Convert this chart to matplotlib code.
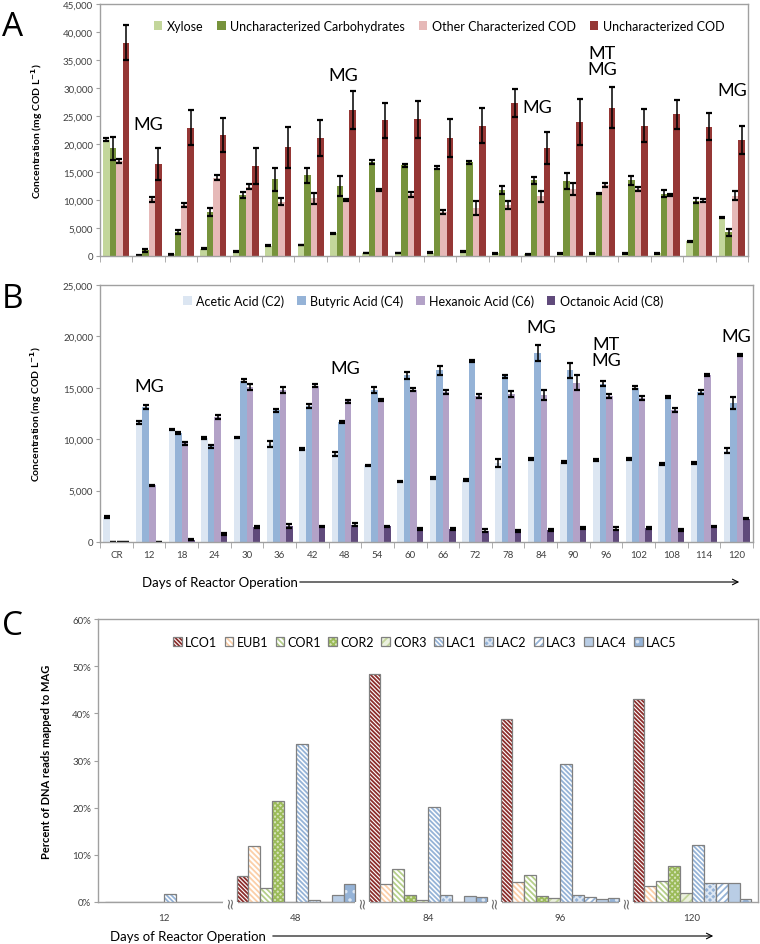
#!/usr/bin/env python3
"""
Three-panel reactor figure: COD fractions (A), carboxylic acids (B)
and MAG read abundance (C) over days of reactor operation.
"""

import numpy as np
import matplotlib
matplotlib.use("Agg")
import matplotlib.pyplot as plt
from matplotlib.patches import Patch, FancyArrowPatch
from matplotlib.ticker import FuncFormatter

plt.rcParams['font.family'] = ['Lato', 'DejaVu Sans']
plt.rcParams['hatch.linewidth'] = 1.3

# ---- Panel A / B data (mg COD/L) ----
days = ['CR', '12', '18', '24', '30', '36', '42', '48', '54', '60',
        '66', '72', '78', '84', '90', '96', '102', '108', '114', '120']

xylose = [20800, 60, 300, 1300, 830, 1800, 1960, 4050, 540, 540,
          600, 800, 500, 300, 500, 500, 500, 500, 2600, 6800]
xylose_err = [200, 50, 60, 60, 60, 80, 80, 80, 60, 60,
              60, 60, 60, 60, 60, 60, 60, 60, 60, 100]
carbs = [19200, 1000, 4300, 7800, 10900, 13700, 14400, 12500, 16800, 16200,
         15800, 16700, 11800, 13500, 13400, 11200, 13500, 11100, 9900, 4200]
carbs_err = [2000, 200, 300, 700, 500, 2100, 1400, 1700, 350, 300,
             300, 300, 700, 600, 1500, 100, 800, 600, 500, 700]
other_cod = [17000, 10100, 9100, 14000, 12400, 9700, 10300, 10050, 11800, 11000,
             7900, 8600, 9100, 10650, 12000, 12700, 12000, 10900, 9900, 10800]
other_cod_err = [400, 500, 400, 400, 400, 600, 1000, 150, 200, 400,
                 400, 1200, 700, 1000, 1100, 300, 400, 150, 300, 800]
unchar_cod = [38100, 16400, 22900, 21600, 16000, 19400, 21100, 26100, 24200, 24400,
              21100, 23300, 27400, 19300, 23900, 26500, 23300, 25300, 23100, 20800]
unchar_cod_err = [3100, 2800, 3100, 3000, 3200, 3600, 3200, 3400, 3200, 3300,
                  3400, 3200, 2500, 2900, 4100, 3600, 3000, 2600, 2400, 2500]

acetic = [2400, 11660, 10950, 10100, 10170, 9500, 9070, 8600, 7450, 5900,
          6200, 6000, 7700, 8100, 7800, 7970, 8100, 7600, 7700, 8900]
acetic_err = [100, 150, 80, 80, 80, 300, 80, 200, 80, 80,
              80, 80, 400, 80, 80, 80, 100, 80, 80, 250]
butyric = [0, 13100, 10600, 9300, 15700, 12800, 13250, 11660, 14800, 16200,
           16700, 17600, 16100, 18400, 16700, 15400, 15000, 14100, 14600, 13500]
butyric_err = [0, 200, 80, 150, 150, 150, 200, 80, 300, 300,
               450, 80, 150, 800, 700, 250, 150, 80, 200, 600]
hexanoic = [0, 5500, 9600, 12150, 15100, 14800, 15200, 13700, 13800, 14800,
            14600, 14200, 14400, 14300, 15500, 14200, 14000, 12800, 16200, 18200]
hexanoic_err = [0, 80, 150, 200, 300, 300, 150, 150, 80, 150,
                200, 200, 250, 450, 700, 150, 200, 200, 100, 80]
octanoic = [0, 0, 230, 800, 1460, 1590, 1520, 1690, 1520, 1270,
            1270, 1100, 1100, 1170, 1360, 1300, 1360, 1170, 1520, 2270]
octanoic_err = [0, 0, 80, 80, 80, 200, 80, 150, 80, 80,
                80, 150, 80, 80, 80, 150, 80, 80, 80, 80]

# sampling annotations: (day, label, height in A, height in B)
mg_days = ['12', '48', '84', '96', '120']
mg_labels = ['MG', 'MG', 'MG', 'MT\nMG', 'MG']
mg_y_a = [23600, 32300, 26600, 34800, 29600]
mg_y_b = [15200, 16900, 20900, 18500, 20000]

# ---- Panel C data (% of DNA reads) ----
mag_names = ['LCO1', 'EUB1', 'COR1', 'COR2', 'COR3',
             'LAC1', 'LAC2', 'LAC3', 'LAC4', 'LAC5']
lco1 = [0, 5.6, 48.3, 38.8, 43.0]
eub1 = [0, 11.8, 3.8, 4.2, 3.3]
cor1 = [0, 2.9, 7.0, 5.7, 4.5]
cor2 = [0, 21.5, 1.4, 1.3, 7.7]
cor3 = [0, 0.0, 0.4, 0.9, 2.0]
lac1 = [1.7, 33.4, 20.1, 29.2, 12.1]
lac2 = [0, 0.4, 1.4, 1.5, 4.1]
lac3 = [0, 0.0, 0.0, 1.0, 4.0]
lac4 = [0, 1.4, 1.2, 0.6, 4.0]
lac5 = [0, 3.8, 1.1, 0.8, 0.6]

GRAY = '#a0a0a0'
TXT = '#404040'
EDGE = '#808080'


def style_axes(ax):
    for s in ax.spines.values():
        s.set_color(GRAY)
        s.set_linewidth(1.0)
    ax.tick_params(axis='y', direction='out', length=3, color=GRAY,
                   labelsize=7, labelcolor=TXT, pad=2)


def grouped_bars(ax, series, errs, colors, labels, width=0.2):
    x = np.arange(len(days))
    n = len(series)
    for i, (vals, err, c, lab) in enumerate(zip(series, errs, colors, labels)):
        ax.bar(x + (i - (n - 1) / 2) * width, vals, width, yerr=err, color=c,
               label=lab, linewidth=0,
               error_kw=dict(ecolor='black', elinewidth=1.1, capsize=2.3, capthick=1.6))
    ax.set_xlim(-0.5, len(days) - 0.5)
    ax.set_xticks(np.arange(len(days) + 1) - 0.5, minor=True)
    ax.tick_params(axis='x', which='minor', direction='out', length=4, color=GRAY)
    ax.tick_params(axis='x', which='major', length=0)


def add_mg(ax, ys):
    for d, lab, y in zip(mg_days, mg_labels, ys):
        ax.text(days.index(d), y, lab, ha='center', va='center', fontsize=13,
                linespacing=1.0, color='black')


def main():
    fig = plt.figure(figsize=(7.6, 9.45), dpi=100)
    comma = FuncFormatter(lambda v, p: f'{int(v):,}')
    ylab = r'Concentration (mg COD L$^{\mathbf{-1}}$)'

    # ---- A ----
    axA = fig.add_axes([100 / 760, 1 - 257 / 945, 648 / 760, 252 / 945])
    grouped_bars(axA, [xylose, carbs, other_cod, unchar_cod],
                 [xylose_err, carbs_err, other_cod_err, unchar_cod_err],
                 ['#c3d69b', '#77933c', '#e6b9b8', '#953735'],
                 ['Xylose', 'Uncharacterized Carbohydrates',
                  'Other Characterized COD', 'Uncharacterized COD'])
    axA.set_ylim(0, 45000)
    axA.set_yticks(np.arange(0, 45001, 5000))
    axA.yaxis.set_major_formatter(comma)
    axA.set_xticks(np.arange(len(days)))
    axA.set_xticklabels([])
    style_axes(axA)
    axA.set_ylabel(ylab, fontsize=7.5, fontweight='bold', color='black')
    axA.yaxis.set_label_coords(-0.085, 0.5)
    axA.legend(loc='center', bbox_to_anchor=(0.523, 0.913), ncol=4, frameon=False,
               fontsize=9, handlelength=0.7, handleheight=0.7, handletextpad=0.35,
               columnspacing=1.1)
    add_mg(axA, mg_y_a)

    # ---- B ----
    axB = fig.add_axes([100 / 760, 1 - 543 / 945, 653 / 760, 257 / 945])
    grouped_bars(axB, [acetic, butyric, hexanoic, octanoic],
                 [acetic_err, butyric_err, hexanoic_err, octanoic_err],
                 ['#dce6f2', '#95b3d7', '#b3a2c7', '#604a7b'],
                 ['Acetic Acid (C2)', 'Butyric Acid (C4)',
                  'Hexanoic Acid (C6)', 'Octanoic Acid (C8)'])
    axB.set_ylim(0, 25000)
    axB.set_yticks(np.arange(0, 25001, 5000))
    axB.yaxis.set_major_formatter(comma)
    axB.set_xticks(np.arange(len(days)))
    axB.set_xticklabels(days, fontsize=7, color=TXT)
    axB.tick_params(axis='x', which='major', pad=6)
    style_axes(axB)
    axB.set_ylabel(ylab, fontsize=7.5, fontweight='bold', color='black')
    axB.yaxis.set_label_coords(-0.085, 0.5)
    axB.legend(loc='center', bbox_to_anchor=(0.495, 0.938), ncol=4, frameon=False,
               fontsize=9, handlelength=0.7, handleheight=0.7, handletextpad=0.35,
               columnspacing=1.0)
    add_mg(axB, mg_y_b)

    # ---- C ----
    axC = fig.add_axes([98 / 760, 1 - 903 / 945, 660 / 760, 283 / 945])
    mags = [lco1, eub1, cor1, cor2, cor3, lac1, lac2, lac3, lac4, lac5]
    faces = ['white', 'white', 'white', '#d7e4bd', '#ebf1de',
             'white', '#95b3d7', 'white', '#b9cde5', '#95b3d7']
    hatch_colors = ['#8c2d2b', '#fbcfa8', '#b5cf8a', '#9bbb59', '#c3d69b',
                    '#95b3d7', '#dce6f2', '#95b3d7', '#b9cde5', '#dce6f2']
    hatches = ['\\' * 8, '\\' * 6, '\\' * 6, 'x' * 6, '/' * 4,
               '\\' * 7, 'x' * 5, '/' * 5, None, '..']
    w = 0.09
    x = np.arange(len(mg_days))
    handles = []
    for i, vals in enumerate(mags):
        pos = x + (i - 4.5) * w
        axC.bar(pos, np.array(vals) / 100, w, color=faces[i], edgecolor=hatch_colors[i],
                hatch=hatches[i], linewidth=0, zorder=2)
        axC.bar(pos, np.array(vals) / 100, w, fill=False, edgecolor=EDGE, linewidth=0.9,
                zorder=2)
        handles.append((Patch(facecolor=faces[i], edgecolor=hatch_colors[i],
                              hatch=hatches[i], linewidth=0),
                        Patch(fill=False, edgecolor=EDGE, linewidth=0.9)))
    axC.set_xlim(-0.5, len(mg_days) - 0.5)
    axC.set_ylim(0, 0.6)
    axC.set_yticks(np.arange(0, 0.61, 0.1))
    axC.yaxis.set_major_formatter(FuncFormatter(lambda v, p: f'{v * 100:.0f}%'))
    axC.set_xticks(x)
    axC.set_xticklabels(mg_days, fontsize=7, color=TXT)
    axC.tick_params(axis='x', length=0, pad=8)
    style_axes(axC)
    axC.set_ylabel('Percent of DNA reads mapped to MAG', fontsize=8, fontweight='bold',
                   color='black')
    axC.yaxis.set_label_coords(-0.07, 0.5)
    axC.legend(handles=handles, labels=mag_names, loc='center',
               bbox_to_anchor=(0.495, 0.919), ncol=10,
               frameon=False, fontsize=9, handlelength=0.7, handleheight=0.7,
               handletextpad=0.25, columnspacing=0.6)
    # axis breaks between sampling days (drawn under the bars)
    for b in x[:-1] + 0.5:
        axC.text(b, 0.001, '\u2248', rotation=90, ha='center', va='center', fontsize=11,
                 color='#707070', clip_on=False, family=['DejaVu Sans'], zorder=1.5,
                 bbox=dict(facecolor='white', edgecolor='none', pad=0.0))
    axC.spines['bottom'].set_zorder(1)

    # ---- panel letters and day arrows ----
    for lab, yp in zip(['A', 'B', 'C'], [28, 300, 627]):
        fig.text(0.002, 1 - yp / 945, lab, fontsize=24, va='center', ha='left',
                 family=['Open Sans', 'DejaVu Sans'])
    for tx, x0, x1, yp in [(142, 297, 742, 583), (110, 270, 716, 937)]:
        fig.text(tx / 760, 1 - yp / 945, 'Days of Reactor Operation', fontsize=9.5,
                 va='center', ha='left', color='black')
        fig.add_artist(FancyArrowPatch(
            (x0 / 760, 1 - yp / 945), (x1 / 760, 1 - yp / 945),
            transform=fig.transFigure, arrowstyle='->', mutation_scale=10,
            color='black', linewidth=0.8))

    fig.savefig('out.png', dpi=100)


if __name__ == "__main__":
    main()
